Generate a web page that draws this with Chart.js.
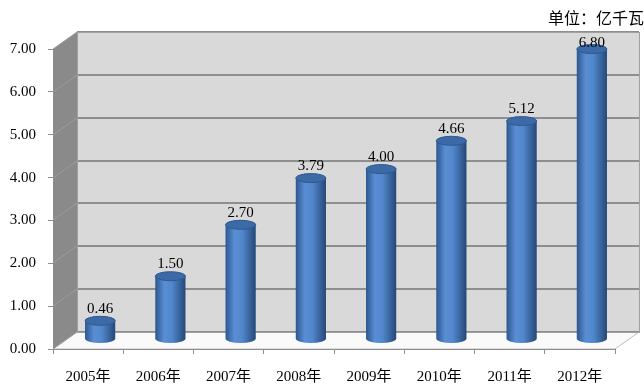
<!DOCTYPE html>
<html>
<head>
<meta charset="utf-8">
<script src="https://cdn.jsdelivr.net/npm/chart.js@4/dist/chart.umd.min.js"></script>
<style>
  html, body { margin: 0; padding: 0; background: #fff; }
  #wrap { width: 644px; height: 391px; position: relative; }
</style>
</head>
<body>
<div id="wrap"><canvas id="capChart"></canvas></div>
<script>
// 年份 / 装机容量 (亿千瓦)
const years = ['2005年', '2006年', '2007年', '2008年', '2009年', '2010年', '2011年', '2012年'];
const capacity = [0.46, 1.50, 2.70, 3.79, 4.00, 4.66, 5.12, 6.80];
const yTicks = [0, 1, 2, 3, 4, 5, 6, 7];
const unitText = '单位：亿千瓦';

// 3D 深度偏移
const DX = 24, DY = 17;
const SERIF = "'Liberation Serif', 'Noto Sans CJK SC', serif";

// 背景墙、侧墙、地板
const wallPlugin = {
  id: 'walls',
  beforeDraw(chart) {
    const c = chart.ctx;
    const a = chart.chartArea;
    const ys = chart.scales.y;
    c.save();
    // 地板
    c.beginPath();
    c.moveTo(a.left, a.bottom);
    c.lineTo(a.left + DX, a.bottom - DY);
    c.lineTo(a.right + DX, a.bottom - DY);
    c.lineTo(a.right, a.bottom);
    c.closePath();
    c.fillStyle = '#fafafa';
    c.fill();
    c.strokeStyle = '#bdbdbd';
    c.lineWidth = 1;
    c.stroke();
    // 背景墙
    c.fillStyle = '#d9d9d9';
    c.fillRect(a.left + DX, a.top - DY, a.right - a.left, a.bottom - a.top);
    // 侧墙
    c.beginPath();
    c.moveTo(a.left, a.top);
    c.lineTo(a.left + DX, a.top - DY);
    c.lineTo(a.left + DX, a.bottom - DY);
    c.lineTo(a.left, a.bottom);
    c.closePath();
    c.fillStyle = '#8a8a8a';
    c.fill();
    // 网格线
    yTicks.forEach(v => {
      const py = Math.round(ys.getPixelForValue(v));
      c.strokeStyle = '#8e8e8e';
      c.lineWidth = 2;
      c.beginPath();
      c.moveTo(a.left + DX, py - DY);
      c.lineTo(a.right + DX, py - DY);
      c.stroke();
      c.strokeStyle = '#9c9c9c';
      c.lineWidth = 1;
      c.beginPath();
      c.moveTo(a.left, py);
      c.lineTo(a.left + DX, py - DY);
      c.stroke();
    });
    c.strokeStyle = '#a0a0a0';
    c.lineWidth = 1;
    c.strokeRect(a.left + DX + 0.5, a.top - DY + 0.5, a.right - a.left, a.bottom - a.top);
    // 单位
    c.fillStyle = '#000';
    c.font = "16px 'Noto Sans CJK SC', sans-serif";
    c.textAlign = 'right';
    c.textBaseline = 'middle';
    c.fillText(unitText, 644, 18);
    c.restore();
  }
};

// 圆柱 + 数据标签
const cylinderPlugin = {
  id: 'cylinders',
  afterDatasetsDraw(chart) {
    const c = chart.ctx;
    const a = chart.chartArea;
    const meta = chart.getDatasetMeta(0);
    c.save();
    meta.data.forEach((bar, i) => {
      const cx = bar.x + DX / 2;
      const top = bar.y - DY / 2;
      const base = bar.base - DY / 2 - 1.5;
      const rx = bar.width / 2;
      const ry = 4.5;
      const g = c.createLinearGradient(cx - rx, 0, cx + rx, 0);
      g.addColorStop(0, '#2b5790');
      g.addColorStop(0.3, '#5a8ed4');
      g.addColorStop(0.55, '#5187cc');
      g.addColorStop(1, '#254878');
      c.beginPath();
      c.moveTo(cx - rx, top);
      c.lineTo(cx - rx, base);
      c.ellipse(cx, base, rx, ry, 0, Math.PI, 0, true);
      c.lineTo(cx + rx, top);
      c.closePath();
      c.fillStyle = g;
      c.fill();
      c.beginPath();
      c.ellipse(cx, top, rx, ry, 0, 0, Math.PI * 2);
      c.fillStyle = '#3c6aa7';
      c.fill();
      c.strokeStyle = '#30598f';
      c.lineWidth = 1;
      c.stroke();
      // 标签不超出绘图区顶部
      const ly = Math.max(top - 12, a.top - DY + 11);
      c.fillStyle = '#000';
      c.font = '15px ' + SERIF;
      c.textAlign = 'center';
      c.textBaseline = 'middle';
      c.fillText(capacity[i].toFixed(2), cx, ly);
    });
    c.restore();
  }
};

new Chart(document.getElementById('capChart'), {
  type: 'bar',
  data: {
    labels: years,
    datasets: [{
      data: capacity,
      backgroundColor: 'rgba(0,0,0,0)',
      borderWidth: 0,
      categoryPercentage: 1,
      barPercentage: 0.43
    }]
  },
  options: {
    responsive: true,
    maintainAspectRatio: false,
    animation: false,
    layout: { padding: { left: 0, right: 29, top: 49, bottom: 0 } },
    plugins: {
      legend: { display: false },
      tooltip: { enabled: false }
    },
    scales: {
      x: {
        afterFit(scale) { scale.height = 42; },
        grid: { drawOnChartArea: false, drawTicks: true, tickLength: 5, color: '#8e8e8e' },
        border: { display: true, color: '#8e8e8e', width: 1 },
        ticks: { color: '#000', padding: 14, font: { size: 15, family: SERIF } }
      },
      y: {
        min: 0,
        max: 7,
        afterFit(scale) { scale.width = 53; },
        grid: { drawOnChartArea: false, drawTicks: true, tickLength: 5, color: '#8e8e8e' },
        border: { display: false },
        ticks: {
          stepSize: 1,
          color: '#000',
          padding: 12,
          font: { size: 15, family: SERIF },
          callback: v => v.toFixed(2)
        }
      }
    }
  },
  plugins: [wallPlugin, cylinderPlugin]
});
</script>
</body>
</html>
